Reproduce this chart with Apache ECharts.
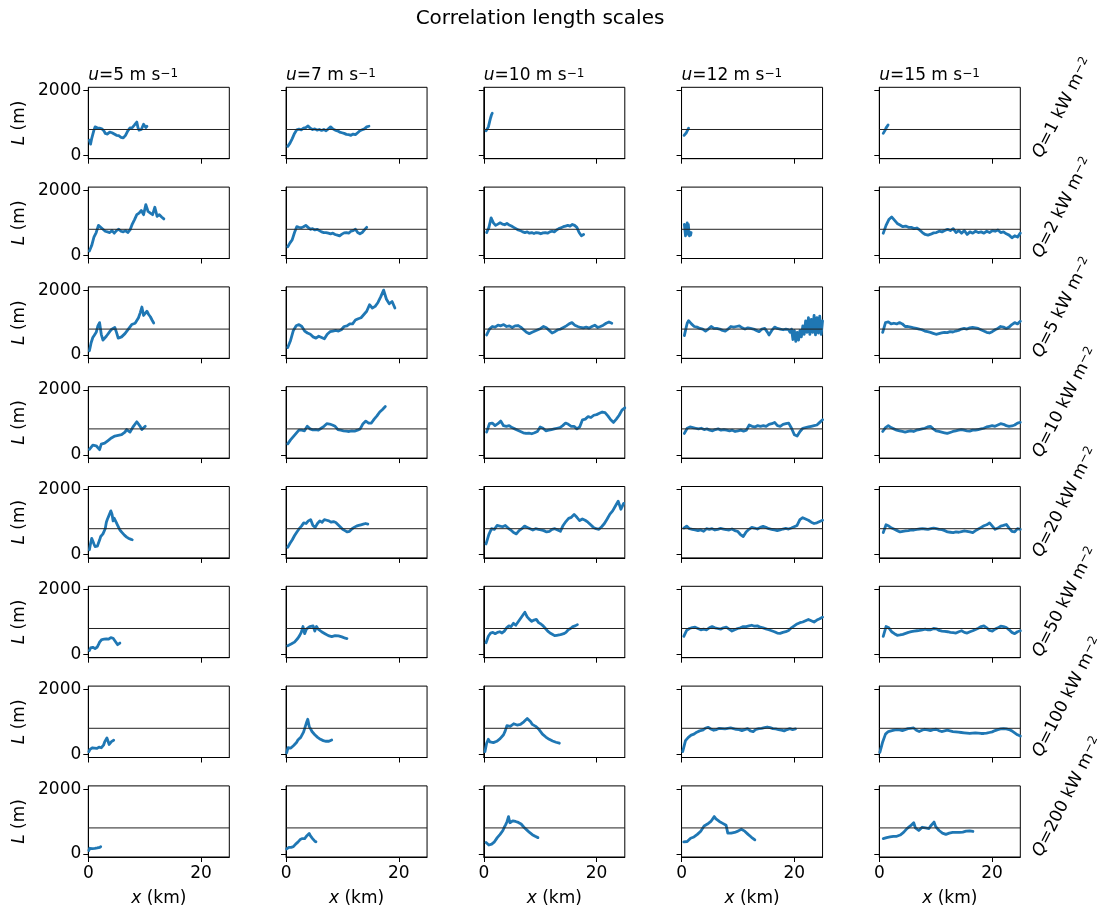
<!DOCTYPE html>
<html>
<head>
<meta charset="utf-8">
<script src="https://cdn.jsdelivr.net/npm/echarts@6/dist/echarts.min.js"></script>
<style>
  html, body { margin: 0; padding: 0; background: #ffffff; }
  #chart { width: 1107px; height: 908px; }
</style>
</head>
<body>
<div id="chart"></div>
<script>
// Columns: wind speed u (m s-1); rows: heat flux Q (kW m-2)
const windSpeeds = [5, 7, 10, 12, 15];
const heatFluxes = [1, 2, 5, 10, 20, 50, 100, 200];
const refLength = 800;          // m, reference correlation length
const xTicks = [0, 20];         // km
const yTicks = [0, 2000];       // m
const xLimits = [0, 25];
const yLimits = [-100, 2100];

// For every row: along-track extent [start, end] (km) of each record, u = 5, 7, 10, 12, 15,
// and the correlation length L (m) sampled evenly over that extent.
const extentQ1 = [[0.2, 10.4], [0.3, 14.7], [0.4, 1.5], [0.45, 1.25], [0.7, 1.55]];
const lengthQ1 = [
  [470,350,520,650,780,880,820,850,800,840,860,820,840,750,680,620,660,700,720,740,700,680,660,640,620,640,610,580,560,520,540,580,620,680,760,820,850,880,860,900,940,920,1030,860,780,820,800,860,960,900,860,900],
  [280,380,520,680,790,810,790,840,860,910,840,800,820,780,800,770,800,760,820,880,820,780,760,720,700,680,650,640,620,660,640,700,760,790,820,880,900],
  [760,720,790,880,980,1080,1170,1250,1300],
  [620,660,700,760,840],
  [680,720,780,850,900,940]
];

const extentQ2 = [[0.2, 13.4], [0.3, 14.3], [0.5, 17.7], [0.5, 1.7], [0.7, 25]];
const lengthQ2 = [
  [130,300,560,700,920,860,800,740,720,700,760,680,760,800,740,720,760,700,780,960,1100,1250,1300,1380,1250,1560,1350,1300,1250,1480,1200,1250,1180,1120],
  [260,380,480,700,880,860,850,880,920,860,800,820,780,800,760,720,700,700,680,660,680,640,620,600,650,690,700,680,740,760,800,700,660,700,780,860],
  [700,850,1150,1000,920,960,1000,960,940,980,930,900,860,820,780,760,720,700,720,680,700,670,700,690,660,690,700,680,720,740,720,780,820,850,880,900,920,900,950,920,860,700,600,640],
  [950,1000,600,900,700,1000,650,950,750,600,700,620,700],
  [680,920,1100,1180,1080,980,930,880,900,860,860,820,840,780,700,640,620,650,690,700,740,720,760,800,760,820,700,760,680,760,640,720,680,740,700,720,680,740,700,760,740,780,700,720,660,620,540,600,560,680]
];

const extentQ5 = [[0.2, 11.6], [0.3, 19.3], [0.5, 22.7], [0.5, 25], [0.6, 25]];
const lengthQ5 = [
  [130,380,540,620,700,900,1000,640,460,480,580,620,720,790,760,850,700,520,480,560,590,660,720,800,860,940,1000,980,1020,1150,1300,1480,1220,1200,1350,1250,1180,1080,990],
  [230,450,760,900,940,880,740,680,640,560,520,580,540,500,640,720,740,760,740,780,880,900,960,960,1080,1120,1150,1250,1350,1550,1450,1500,1620,1800,2000,1720,1580,1650,1450],
  [620,800,880,860,920,900,940,880,900,850,900,910,860,780,700,660,700,740,780,820,880,840,760,680,720,780,800,850,900,960,1000,920,880,850,840,860,830,880,920,850,880,920,980,1020,980],
  [600,800,
   980,1060,1020,960, 920,880,900,860, 860,820,840,800, 760,740,770,800, 820,880,840,820,
   790,820,840,800, 780,760,780,740, 760,800,840,880, 900,860,920,880, 940,900,880,840,
   860,800,820,840, 860,820,860,800, 780,760,740,720, 760,800,780,820, 780,700,620,680,
   760,820,860,800, 820,780,800,840, 780,820,800,840, 780,700,800,480, 760,420,700,460,
   760,560,900,640, 1050,700,1150,640, 1100,700,1220,620, 1150,680,1200,640,
   1050],
  [700,1000,1020,960,980,960,1000,960,880,880,860,840,820,800,780,740,720,700,670,640,660,680,700,690,720,710,740,760,800,820,800,840,850,840,820,780,740,700,680,720,780,820,880,860,820,860,940,1000,960,1040]
];

const extentQ10 = [[0.2, 10.1], [0.3, 17.6], [0.5, 25], [0.5, 25], [0.6, 25]];
const lengthQ10 = [
  [170,230,300,330,280,250,160,330,380,360,420,440,480,520,540,580,620,600,640,620,680,700,780,740,700,760,880,920,1020,960,880,780,820,880],
  [340,460,560,660,760,760,740,880,800,770,780,760,820,880,960,950,920,880,780,760,740,730,720,740,730,760,800,960,1040,980,980,1100,1200,1320,1400,1490],
  [700,960,980,900,960,1040,900,880,900,840,800,760,720,680,660,670,650,680,720,860,820,740,760,780,800,820,840,900,980,940,880,880,800,860,1080,1100,1180,1150,1220,1240,1280,1320,1300,1200,1080,1000,1100,1220,1380,1450],
  [660,820,860,840,820,800,820,780,800,760,740,780,800,760,780,760,740,760,720,740,760,730,760,920,880,860,900,880,900,880,940,960,1000,900,880,940,960,980,820,620,580,720,820,840,860,880,900,920,1000,1080],
  [720,840,900,840,800,760,740,720,700,720,740,720,760,780,800,820,860,880,800,740,720,700,680,660,690,720,740,760,780,760,740,730,760,760,780,800,820,860,880,900,880,920,960,940,900,880,890,920,980,1000]
];

const extentQ20 = [[0.2, 7.8], [0.3, 14.5], [0.4, 24.8], [0.4, 25], [0.7, 25]];
const lengthQ20 = [
  [150,340,500,420,330,250,230,260,290,450,560,600,640,700,800,1000,1100,1180,1230,1350,1250,1040,1120,1100,980,900,860,760,700,680,620,600,560,540,510,500,480,470,460],
  [230,350,460,590,700,800,880,980,960,1040,1080,900,840,960,1040,1000,1080,1060,1040,1000,1020,990,920,850,780,740,700,720,790,840,880,900,920,940,960,940],
  [330,620,800,780,900,880,860,900,820,760,680,640,740,800,880,840,800,760,800,780,760,740,700,720,780,800,760,720,900,1020,1120,1150,1240,1150,1050,1100,1060,1000,920,840,800,780,860,960,1100,1250,1350,1500,1650,1400,1580],
  [820,880,800,780,760,740,760,720,800,780,800,760,780,810,790,770,760,790,740,720,620,560,700,780,840,820,790,840,870,840,800,780,760,740,760,790,810,790,820,860,900,1080,1140,1100,1060,1000,960,980,1020,1060],
  [680,920,880,820,780,740,700,720,730,740,760,760,780,790,800,790,780,800,820,800,780,770,740,700,690,680,700,690,710,730,720,700,680,740,790,840,890,920,980,880,780,820,880,900,930,820,720,700,800,780]
];

const extentQ50 = [[0.2, 5.6], [0.3, 10.8], [0.4, 16.6], [0.4, 25], [0.7, 25]];
const lengthQ50 = [
  [120,200,260,220,200,180,190,230,300,380,420,460,440,470,450,480,440,470,460,520,560,500,450,400,340,300,330,350],
  [270,290,320,350,380,440,500,580,680,860,640,780,800,860,800,880,720,860,780,720,700,680,640,600,580,570,550,560,580,600,570,540,540,520,500,490],
  [360,560,660,680,640,680,700,660,720,820,880,860,960,900,1000,1100,1200,1300,1160,1080,1020,1060,1080,980,940,880,800,720,660,620,580,590,600,620,640,680,760,800,860,880,920],
  [560,740,800,830,840,800,760,780,760,820,860,820,800,780,820,840,780,720,760,800,820,860,860,880,900,870,880,840,820,790,760,730,700,660,650,680,700,740,820,880,940,980,1000,1040,1080,1040,1000,1060,1100,1150],
  [560,860,820,700,640,590,600,620,650,680,700,720,730,740,760,780,760,760,800,790,740,720,710,700,680,670,660,700,730,680,660,700,730,770,810,860,880,820,740,720,780,820,870,860,830,760,680,640,700,730]
];

const extentQ100 = [[0.1, 4.5], [0.1, 8.1], [0.2, 13.4], [0.2, 20.2], [0.1, 25]];
const lengthQ100 = [
  [80,150,180,200,210,190,170,180,230,220,180,200,250,280,380,440,500,400,300,330,390,420,430],
  [40,200,230,190,230,270,300,360,440,480,520,580,680,820,960,1080,860,780,700,660,600,540,520,480,460,440,420,410,400,420,400,430,440],
  [80,340,460,380,320,360,370,400,440,480,520,600,720,880,900,860,920,940,880,900,950,920,960,1000,1040,1100,1060,1000,920,880,860,820,760,700,620,580,530,490,460,440,410,390,370,360,340],
  [80,420,520,590,620,680,720,740,800,830,780,740,760,800,790,780,800,810,790,770,760,730,760,790,720,700,770,790,800,820,840,820,790,780,760,740,720,760,790,760,780],
  [60,380,620,700,720,740,760,750,730,760,790,800,810,740,700,740,770,750,730,760,770,730,700,720,740,720,700,690,680,670,660,650,640,650,660,650,640,640,650,670,690,730,760,780,790,780,760,720,660,600,560]
];

const extentQ200 = [[0.1, 2.2], [0.1, 5.3], [0.4, 9.6], [0.4, 13.0], [0.7, 16.6]];
const lengthQ200 = [
  [100,170,150,130,160,170,150,165,175,160,180,185,190,200,215],
  [150,190,200,190,200,210,220,260,300,320,360,400,440,430,470,500,470,520,560,600,630,560,500,470,430,390,370],
  [350,290,270,260,300,330,370,430,500,560,600,660,720,820,900,1000,1150,960,1000,1020,980,1000,960,970,950,920,880,820,780,740,700,660,620,590,560,540,520,500],
  [370,400,380,440,480,460,520,560,600,640,700,760,860,880,920,900,1000,1040,1150,1080,1050,1000,980,940,900,880,640,620,640,630,660,650,700,740,760,720,700,660,600,560,510,470,430],
  [470,450,500,480,520,500,540,560,540,600,580,640,660,720,780,760,860,820,960,800,760,720,780,820,760,800,740,780,860,820,980,840,780,720,680,640,620,600,620,640,630,660,640,660,680,660,690,670,680,700,690,710,680,690]
];

const rowExtents = [extentQ1, extentQ2, extentQ5, extentQ10, extentQ20, extentQ50, extentQ100, extentQ200];
const rowLengths = [lengthQ1, lengthQ2, lengthQ5, lengthQ10, lengthQ20, lengthQ50, lengthQ100, lengthQ200];

// ---- layout of the panel grid ----
const FONT = 'DejaVu Sans';
const PANEL_LEFT = 88.3, COL_STEP = 197.75, PANEL_W = 141;
const PANEL_TOP = 87.3, ROW_STEP = 99.8, PANEL_H = 71.4;
const LINE_BLUE = '#1f77b4';

// rich-text pieces for italic symbols and superscripts (graphic elements use "fill")
const richGraphic = {
  i: { fontStyle: 'italic', fontFamily: FONT, fontSize: 17, fill: '#000' },
  n: { fontFamily: FONT, fontSize: 17, fill: '#000' },
  s: { fontFamily: FONT, fontSize: 12, fill: '#000', verticalAlign: 'top' }
};
const richAxis = {
  i: { fontStyle: 'italic', fontFamily: FONT, fontSize: 17, color: '#000' }
};

const grids = [], xAxes = [], yAxes = [], series = [], graphics = [];

heatFluxes.forEach((q, r) => {
  windSpeeds.forEach((u, c) => {
    const k = r * windSpeeds.length + c;
    const isBottom = r === heatFluxes.length - 1;
    const isLeft = c === 0;
    grids.push({
      left: PANEL_LEFT + c * COL_STEP,
      top: PANEL_TOP + r * ROW_STEP,
      width: PANEL_W,
      height: PANEL_H,
      show: true,
      borderColor: '#000',
      borderWidth: 1,
      backgroundColor: 'transparent'
    });
    xAxes.push({
      gridIndex: k,
      type: 'value',
      min: xLimits[0],
      max: xLimits[1],
      axisLine: { onZero: false, lineStyle: { color: '#000', width: 1 } },
      axisTick: { customValues: xTicks, length: 5, lineStyle: { color: '#000', width: 1 } },
      axisLabel: {
        show: isBottom, customValues: xTicks, color: '#000',
        fontFamily: FONT, fontSize: 17, margin: 8,
        formatter: (v) => String(v)
      },
      splitLine: { show: false },
      name: isBottom ? '{i|x} (km)' : '',
      nameLocation: 'middle',
      nameGap: 33,
      nameTextStyle: { color: '#000', fontFamily: FONT, fontSize: 17, rich: richAxis }
    });
    yAxes.push({
      gridIndex: k,
      type: 'value',
      min: yLimits[0],
      max: yLimits[1],
      axisLine: { show: true, onZero: false, lineStyle: { color: '#000', width: 1 } },
      axisTick: { show: true, customValues: yTicks, length: 5, lineStyle: { color: '#000', width: 1 } },
      axisLabel: {
        show: isLeft, customValues: yTicks, color: '#000',
        fontFamily: FONT, fontSize: 17, margin: 7,
        formatter: (v) => String(v)
      },
      splitLine: { show: false },
      name: isLeft ? '{i|L} (m)' : '',
      nameLocation: 'middle',
      nameGap: 60,
      nameRotate: 90,
      nameTextStyle: { color: '#000', fontFamily: FONT, fontSize: 17, rich: richAxis }
    });

    const [x0, x1] = rowExtents[r][c];
    const vals = rowLengths[r][c];
    const n = vals.length;
    series.push({
      type: 'line',
      xAxisIndex: k,
      yAxisIndex: k,
      data: vals.map((v, i) => [x0 + (x1 - x0) * i / (n - 1), v]),
      symbol: 'none',
      showSymbol: false,
      silent: true,
      z: 2,
      lineStyle: { color: LINE_BLUE, width: 2.8, join: 'round', cap: 'round' }
    });
    // reference level
    series.push({
      type: 'line',
      xAxisIndex: k,
      yAxisIndex: k,
      data: [[xLimits[0], refLength], [xLimits[1], refLength]],
      symbol: 'none',
      showSymbol: false,
      silent: true,
      z: 3,
      lineStyle: { color: '#222', width: 1 }
    });
  });
});

// column headers
windSpeeds.forEach((u, c) => {
  graphics.push({
    type: 'text',
    x: PANEL_LEFT + c * COL_STEP,
    y: 76,
    style: {
      text: '{i|u}{n|=' + u + ' m s}{s|\u22121}',
      fontFamily: FONT, fontSize: 17, fill: '#000',
      textAlign: 'left', textVerticalAlign: 'middle',
      rich: richGraphic
    }
  });
});

// row labels on the right, slanted
heatFluxes.forEach((q, r) => {
  graphics.push({
    type: 'text',
    x: 1045,
    y: PANEL_TOP + r * ROW_STEP + PANEL_H + 2,
    rotation: 63 * Math.PI / 180,
    style: {
      text: '{i|Q}{n|=' + q + ' kW m}{s|\u22122}',
      fontFamily: FONT, fontSize: 17, fill: '#000',
      textAlign: 'left', textVerticalAlign: 'bottom',
      rich: richGraphic
    }
  });
});

// figure title
graphics.push({
  type: 'text',
  x: 540,
  y: 19,
  style: {
    text: 'Correlation length scales',
    fontFamily: FONT, fontSize: 20, fill: '#000',
    textAlign: 'center', textVerticalAlign: 'middle'
  }
});

const chart = echarts.init(document.getElementById('chart'), null, { renderer: 'canvas' });
chart.setOption({
  animation: false,
  backgroundColor: '#ffffff',
  grid: grids,
  xAxis: xAxes,
  yAxis: yAxes,
  series: series,
  graphic: graphics
});
</script>
</body>
</html>
